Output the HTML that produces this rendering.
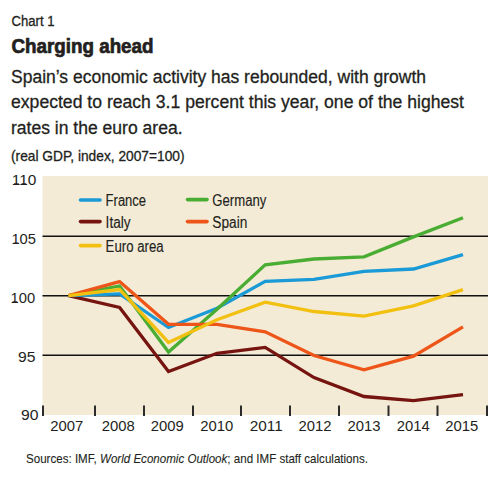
<!DOCTYPE html>
<html><head><meta charset="utf-8"><style>
html,body{margin:0;padding:0;background:#fff;}
svg{display:block;}
text{font-family:"Liberation Sans",sans-serif;fill:#231f20;stroke:#231f20;stroke-width:var(--sw,0.3px);}
</style></head><body>
<svg width="500" height="483" viewBox="0 0 500 483">
<text x="11.5" y="26" font-size="14" textLength="43" lengthAdjust="spacingAndGlyphs">Chart 1</text>
<text x="11.5" y="52.8" font-size="20" font-weight="700" style="--sw:0.7px" textLength="142" lengthAdjust="spacingAndGlyphs">Charging ahead</text>
<text x="11" y="82.8" font-size="18" textLength="415" lengthAdjust="spacingAndGlyphs">Spain’s economic activity has rebounded, with growth</text>
<text x="11" y="108" font-size="18" textLength="453" lengthAdjust="spacingAndGlyphs">expected to reach 3.1 percent this year, one of the highest</text>
<text x="11" y="133.6" font-size="18" textLength="171.5" lengthAdjust="spacingAndGlyphs">rates in the euro area.</text>
<text x="11" y="160.8" font-size="14.5" textLength="173.5" lengthAdjust="spacingAndGlyphs">(real GDP, index, 2007=100)</text>
<rect x="42.5" y="176" width="445.5" height="239" fill="#f4ebd6"/>
<g stroke="#111" stroke-width="1.4">
<line x1="42.5" y1="236.3" x2="488" y2="236.3"/>
<line x1="42.5" y1="295.7" x2="488" y2="295.7"/>
<line x1="42.5" y1="355.3" x2="488" y2="355.3"/>
</g>
<line x1="43" y1="405.5" x2="43" y2="416" stroke="#2b2b2b" stroke-width="2"/>
<line x1="95" y1="405.5" x2="95" y2="416" stroke="#2b2b2b" stroke-width="2"/>
<line x1="144" y1="405.5" x2="144" y2="416" stroke="#2b2b2b" stroke-width="2"/>
<line x1="193" y1="405.5" x2="193" y2="416" stroke="#2b2b2b" stroke-width="2"/>
<line x1="241" y1="405.5" x2="241" y2="416" stroke="#2b2b2b" stroke-width="2"/>
<line x1="290" y1="405.5" x2="290" y2="416" stroke="#2b2b2b" stroke-width="2"/>
<line x1="339" y1="405.5" x2="339" y2="416" stroke="#2b2b2b" stroke-width="2"/>
<line x1="388.5" y1="405.5" x2="388.5" y2="416" stroke="#2b2b2b" stroke-width="2"/>
<line x1="437.5" y1="405.5" x2="437.5" y2="416" stroke="#2b2b2b" stroke-width="2"/>
<line x1="487" y1="405.5" x2="487" y2="416" stroke="#2b2b2b" stroke-width="2"/>
<g font-size="15.3" style="--sw:0px">
<text x="11.8" y="184.5" textLength="24.6" lengthAdjust="spacingAndGlyphs">110</text>
<text x="11.4" y="243.7" textLength="24.6" lengthAdjust="spacingAndGlyphs">105</text>
<text x="10.6" y="302.5" textLength="24.6" lengthAdjust="spacingAndGlyphs">100</text>
<text x="17.9" y="361.7" textLength="17.5" lengthAdjust="spacingAndGlyphs">95</text>
<text x="21.1" y="420.3" textLength="17.5" lengthAdjust="spacingAndGlyphs">90</text>
</g>
<g font-size="15.3" style="--sw:0px">
<text x="50.3" y="431" textLength="33" lengthAdjust="spacingAndGlyphs">2007</text>
<text x="101.7" y="431" textLength="33" lengthAdjust="spacingAndGlyphs">2008</text>
<text x="150.7" y="431" textLength="33" lengthAdjust="spacingAndGlyphs">2009</text>
<text x="200.2" y="431" textLength="33" lengthAdjust="spacingAndGlyphs">2010</text>
<text x="249.7" y="431" textLength="33" lengthAdjust="spacingAndGlyphs">2011</text>
<text x="298.5" y="431" textLength="33" lengthAdjust="spacingAndGlyphs">2012</text>
<text x="347.5" y="431" textLength="33" lengthAdjust="spacingAndGlyphs">2013</text>
<text x="396.7" y="431" textLength="33" lengthAdjust="spacingAndGlyphs">2014</text>
<text x="445.3" y="431" textLength="33" lengthAdjust="spacingAndGlyphs">2015</text>
</g>
<g stroke-width="3.6" stroke-linecap="round">
<line x1="80.5" y1="200" x2="100" y2="200" stroke="#1a9ad6"/>
<line x1="80.5" y1="221.6" x2="100" y2="221.6" stroke="#761410"/>
<line x1="80.5" y1="245.6" x2="100" y2="245.6" stroke="#f2c010"/>
<line x1="187.5" y1="199.6" x2="207" y2="199.6" stroke="#4aad33"/>
<line x1="187.5" y1="221.6" x2="207" y2="221.6" stroke="#ee5519"/>
</g>
<g font-size="16" style="--sw:0.15px">
<text x="105.6" y="206" textLength="40.5" lengthAdjust="spacingAndGlyphs">France</text>
<text x="105.6" y="227.6" textLength="25" lengthAdjust="spacingAndGlyphs">Italy</text>
<text x="105.6" y="252.1" textLength="58" lengthAdjust="spacingAndGlyphs">Euro area</text>
<text x="212.3" y="205.6" textLength="54" lengthAdjust="spacingAndGlyphs">Germany</text>
<text x="212.3" y="227.6" textLength="35" lengthAdjust="spacingAndGlyphs">Spain</text>
</g>
<g fill="#231f20"><rect x="13.96" y="183.30" width="4.8" height="1.2"/><rect x="21.51" y="183.30" width="4.8" height="1.2"/><rect x="13.74" y="242.50" width="4.8" height="1.2"/><rect x="12.60" y="301.30" width="4.8" height="1.2"/><rect x="218.38" y="429.80" width="4.8" height="1.2"/><rect x="268.52" y="429.80" width="4.8" height="1.2"/><rect x="276.32" y="429.80" width="4.8" height="1.2"/><rect x="316.40" y="429.80" width="4.8" height="1.2"/><rect x="365.58" y="429.80" width="4.8" height="1.2"/><rect x="415.56" y="429.80" width="4.8" height="1.2"/><rect x="463.80" y="429.80" width="4.8" height="1.2"/></g>
<polyline points="68.5,295.7 119.6,307.5 168.5,371.5 217.0,353.3 265.2,347.4 314.0,377.6 364.0,396.5 413.5,400.6 463.0,394.6" fill="none" stroke="#761410" stroke-width="3.3" stroke-linejoin="miter" stroke-linecap="butt"/>
<polyline points="68.5,295.7 119.6,293.9 168.5,327.5 217.0,308.2 265.2,281.4 314.0,279.3 364.0,271.4 413.5,269.0 463.0,254.6" fill="none" stroke="#1a9ad6" stroke-width="3.3" stroke-linejoin="miter" stroke-linecap="butt"/>
<polyline points="68.5,295.7 119.6,286.0 168.5,352.0 217.0,309.3 265.2,264.9 314.0,259.0 364.0,256.8 413.5,236.9 463.0,217.7" fill="none" stroke="#4aad33" stroke-width="3.3" stroke-linejoin="miter" stroke-linecap="butt"/>
<polyline points="68.5,295.7 119.6,281.6 168.5,324.3 217.0,324.3 265.2,331.8 314.0,355.5 364.0,369.8 413.5,356.2 463.0,326.8" fill="none" stroke="#ee5519" stroke-width="3.3" stroke-linejoin="miter" stroke-linecap="butt"/>
<polyline points="68.5,295.7 119.6,289.5 168.5,342.4 217.0,319.8 265.2,302.1 314.0,311.5 364.0,316.1 413.5,305.8 463.0,289.6" fill="none" stroke="#f2c010" stroke-width="3.3" stroke-linejoin="miter" stroke-linecap="butt"/>
<text x="26" y="463.3" font-size="12.6" style="--sw:0.1px" textLength="342" lengthAdjust="spacingAndGlyphs">Sources: IMF, <tspan font-style="italic">World Economic Outlook</tspan>; and IMF staff calculations.</text>
</svg>
</body></html>
